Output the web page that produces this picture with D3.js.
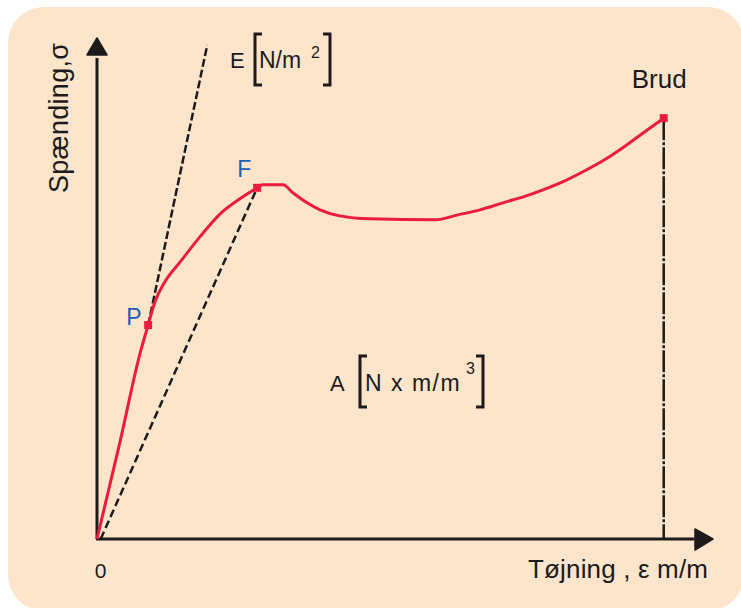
<!DOCTYPE html>
<html>
<head>
<meta charset="utf-8">
<script src="https://cdn.jsdelivr.net/npm/d3@7"></script>
<style>
  body { margin: 0; background: #ffffff; }
  text { font-family: "Liberation Sans", Arial, sans-serif; }
</style>
</head>
<body>
<script>
const svgWidth = 741
const svgHeight = 608

// stress-strain curve (strain, stress) in relative units 0..100
const strain = [0, 3.7, 7.0, 8.3, 9.4, 11.0, 13.5, 16.7, 20.0, 23.2, 26.0,
    26.9, 30.2, 31.8, 34.1, 36.2, 39.4, 44.3, 54.9, 58.6, 62.2, 65.9, 69.2, 72.4, 76.3, 79.5, 82.8, 85.7, 88.6, 92.0]
const stress = [0, 19.2, 37.1, 42.7, 47.3, 51.3, 55.3, 60.3, 64.9, 67.9, 70.1,
    70.7, 70.7, 69.1, 67.1, 65.7, 64.5, 63.9, 63.7, 64.7, 65.7, 67.1, 68.3, 69.7, 71.7, 73.7, 76.0, 78.4, 81.0, 84.0]

// marked points
const pointNames = ["P", "F", "Brud"]
const pointStrain = [8.3, 26.0, 92.0]
const pointStress = [42.7, 70.1, 84.0]

// construction lines
const eLine = [[8.3, 42.7], [17.9, 98.6]]
const fLine = [[0.6, 0], [26.0, 70.1]]
const brudLine = [[92.0, 84.0], [92.0, 0]]

const xTicks = [0]

const red = "#ec1c3e"
const blue = "#1d5cb4"
const ink = "#1c1a1a"

const svg = d3.select("body").append("svg")
    .attr("width", svgWidth)
    .attr("height", svgHeight)

svg.append("rect")
    .attr("x", 8)
    .attr("y", 7)
    .attr("width", 736)
    .attr("height", 604)
    .attr("rx", 36)
    .attr("fill", "#fde5cb")

const x = d3.scaleLinear().domain([0, 100]).range([97, 713])
const y = d3.scaleLinear().domain([0, 100]).range([539, 38])

// axes with arrow heads
svg.append("line")
    .attr("x1", x(0)).attr("y1", y(0))
    .attr("x2", x(0)).attr("y2", y(96))
    .attr("stroke", ink).attr("stroke-width", 3)
svg.append("path")
    .attr("d", `M${x(0)},${y(100)} L${x(0) + 10},${y(100) + 17} L${x(0) - 10},${y(100) + 17} Z`)
    .attr("fill", ink).attr("stroke", ink).attr("stroke-linejoin", "round").attr("stroke-width", 1.5)

svg.append("line")
    .attr("x1", x(0) - 1).attr("y1", y(0))
    .attr("x2", x(97)).attr("y2", y(0))
    .attr("stroke", ink).attr("stroke-width", 3)
svg.append("path")
    .attr("d", `M${x(100)},${y(0)} L${x(100) - 18},${y(0) - 10} L${x(100) - 18},${y(0) + 11} Z`)
    .attr("fill", ink).attr("stroke", ink).attr("stroke-linejoin", "round").attr("stroke-width", 1.5)

const xAxis = d3.axisBottom(x).tickValues(xTicks).tickSize(0).tickPadding(0)
const xg = svg.append("g")
    .attr("transform", `translate(0, ${y(0)})`)
    .call(xAxis)
xg.select(".domain").remove()
xg.selectAll("text")
    .attr("dx", 3)
    .attr("y", 39)
    .attr("dy", 0)
    .attr("font-size", 21)
    .attr("fill", ink)
    .attr("font-family", "Liberation Sans, Arial, sans-serif")

// dashed construction lines
const line = d3.line().x(d => x(d[0])).y(d => y(d[1]))

svg.append("path")
    .attr("d", line(eLine))
    .attr("fill", "none").attr("stroke", ink).attr("stroke-width", 2.5)
    .attr("stroke-dasharray", "8,3")
svg.append("path")
    .attr("d", line(fLine))
    .attr("fill", "none").attr("stroke", ink).attr("stroke-width", 2.5)
    .attr("stroke-dasharray", "8,4")
svg.append("path")
    .attr("d", line(brudLine))
    .attr("fill", "none").attr("stroke", ink).attr("stroke-width", 2.5)
    .attr("stroke-dasharray", "22,2,3,2")

// curve
const curve = d3.line()
    .x((d, i) => x(strain[i]))
    .y((d, i) => y(stress[i]))
    .curve(d3.curveMonotoneX)

svg.append("path")
    .attr("d", curve(strain))
    .attr("fill", "none")
    .attr("stroke", red)
    .attr("stroke-width", 3)
    .attr("stroke-linejoin", "round")

svg.selectAll("rect.marker")
    .data(pointNames)
    .enter()
    .append("rect")
    .attr("class", "marker")
    .attr("x", (d, i) => x(pointStrain[i]) - 4)
    .attr("y", (d, i) => y(pointStress[i]) - 4)
    .attr("width", 8)
    .attr("height", 8)
    .attr("fill", red)

// point labels
const labelOffset = { P: [-22, 0, blue, 23], F: [-20, -11, blue, 23], Brud: [-32, -30, ink, 26] }
svg.selectAll("text.pt")
    .data(pointNames)
    .enter()
    .append("text")
    .attr("class", "pt")
    .attr("x", (d, i) => x(pointStrain[i]) + labelOffset[d][0])
    .attr("y", (d, i) => y(pointStress[i]) + labelOffset[d][1])
    .attr("fill", d => labelOffset[d][2])
    .attr("font-size", d => labelOffset[d][3])
    .text(d => d)

// bracket helper
function bracket(xPos, top, bottom, dir) {
    svg.append("path")
        .attr("d", `M${xPos + dir * 7},${top} L${xPos},${top} L${xPos},${bottom} L${xPos + dir * 7},${bottom}`)
        .attr("fill", "none").attr("stroke", ink).attr("stroke-width", 3)
}

// E [N/m²]
svg.append("text").attr("x", 230).attr("y", 68).attr("font-size", 22).attr("fill", ink).text("E")
bracket(255, 34, 85, 1)
svg.append("text").attr("x", 259).attr("y", 68).attr("font-size", 23).attr("fill", ink).text("N/m")
svg.append("text").attr("x", 311).attr("y", 58).attr("font-size", 16).attr("fill", ink).text("2")
bracket(330, 34, 85, -1)

// A [N x m/m³]
svg.append("text").attr("x", 330).attr("y", 391).attr("font-size", 22).attr("fill", ink).text("A")
bracket(360, 356, 407, 1)
svg.append("text").attr("x", 365).attr("y", 391).attr("font-size", 23).attr("fill", ink)
    .attr("letter-spacing", 1.5).text("N x m/m")
svg.append("text").attr("x", 466).attr("y", 374).attr("font-size", 16).attr("fill", ink).text("3")
bracket(483, 356, 407, -1)

// axis titles
svg.append("text")
    .attr("x", 528).attr("y", 578)
    .attr("font-size", 26).attr("fill", ink)
    .attr("textLength", 180)
    .text("Tøjning , ε m/m")

svg.append("text")
    .attr("transform", "translate(68, 193) rotate(-90)")
    .attr("font-size", 27).attr("fill", ink)
    .attr("textLength", 150)
    .text("Spænding,σ")
</script>
</body>
</html>
